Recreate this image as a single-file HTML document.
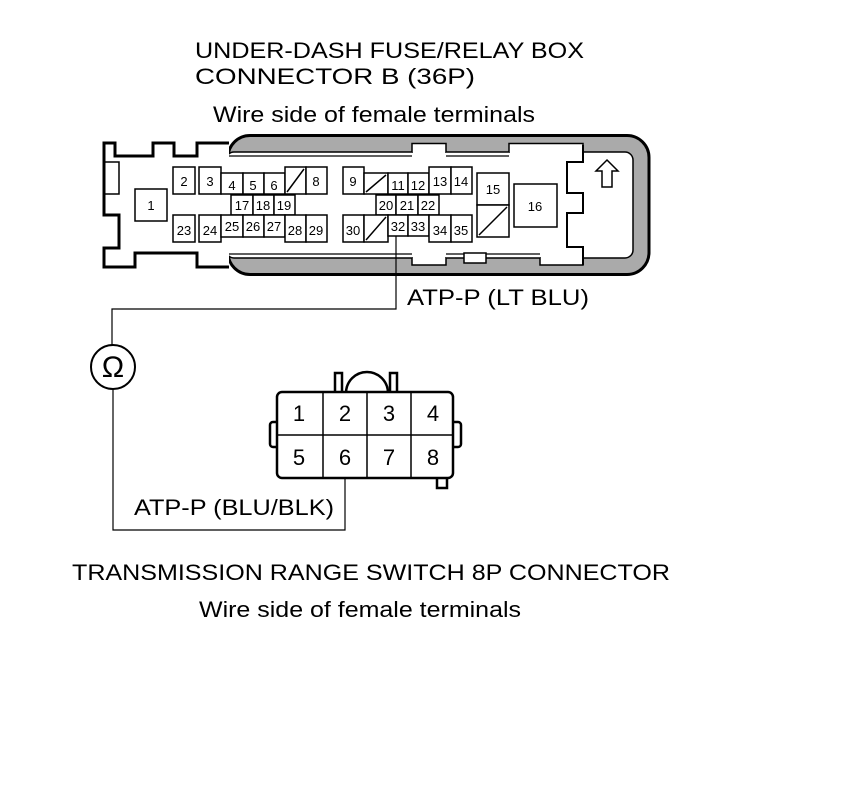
<!DOCTYPE html>
<html><head><meta charset="utf-8"><style>
html,body{margin:0;padding:0;background:#fff;}
svg{display:block;}
text{font-family:"Liberation Sans",sans-serif;fill:#000;}
.t{font-size:22px;}
.n{font-size:13px;text-anchor:middle;}
.p{font-size:22px;text-anchor:middle;}
</style></head><body>
<svg width="860" height="785" viewBox="0 0 860 785" xmlns="http://www.w3.org/2000/svg">
<rect width="860" height="785" fill="#fff"/>
<text class="t" x="195" y="58" textLength="389" lengthAdjust="spacingAndGlyphs">UNDER-DASH FUSE/RELAY BOX</text>
<text class="t" x="195" y="84" textLength="280" lengthAdjust="spacingAndGlyphs">CONNECTOR B (36P)</text>
<text class="t" x="213" y="122" textLength="322" lengthAdjust="spacingAndGlyphs">Wire side of female terminals</text>

<rect x="228" y="135.5" width="421" height="139" rx="22" fill="#aaa" stroke="#000" stroke-width="3"/>
<rect x="226" y="152" width="407" height="106" rx="8" fill="#fff" stroke="#000" stroke-width="1.5"/>
<g fill="#fff" stroke="#000" stroke-width="1.5">
<path d="M412,152 V143.5 H446 V152"/>
<path d="M509,152 V143.5 H583 V152"/>
<path d="M412,258 V265 H446 V258"/>
<path d="M540,258 V265 H583 V258"/>
<rect x="464" y="253" width="22" height="10"/>
</g>
<rect x="413" y="151" width="32" height="3" fill="#fff"/>
<rect x="510" y="151" width="72" height="3" fill="#fff"/>
<rect x="413" y="256" width="32" height="3" fill="#fff"/>
<rect x="541" y="256" width="41" height="3" fill="#fff"/>
<line x1="229" y1="156" x2="412" y2="156" stroke="#000" stroke-width="1.3"/>
<line x1="446" y1="156" x2="509" y2="156" stroke="#000" stroke-width="1.3"/>
<line x1="229" y1="254" x2="412" y2="254" stroke="#000" stroke-width="1.3"/>
<line x1="446" y1="254" x2="464" y2="254" stroke="#000" stroke-width="1.3"/>
<line x1="486" y1="254" x2="540" y2="254" stroke="#000" stroke-width="1.3"/>
<polyline points="583,145 583,162 567,162 567,193 583,193 583,213 567,213 567,247 583,247 583,265" fill="none" stroke="#000" stroke-width="2"/>
<polygon points="607,160 618,171 612,171 612,187 602,187 602,171 596,171" fill="#fff" stroke="#000" stroke-width="1.5"/>
<path d="M229,143 H197 V156 H174 V143 H153 V156 H115 V143 H104 V215 H119 V248 H104 V267 H135 V253 H197 V267 H229" fill="#fff" stroke="#000" stroke-width="3"/>
<path d="M104,162 H119 V194 H104" fill="none" stroke="#000" stroke-width="1.5"/>
<rect x="226" y="157" width="4" height="96" fill="#fff"/>

<g fill="#fff" stroke="#000" stroke-width="1.5">
<rect x="135" y="189" width="32" height="32"/>
<rect x="173" y="167" width="22" height="27"/>
<rect x="199" y="167" width="22" height="27"/>
<rect x="221" y="173" width="22" height="21"/>
<rect x="243" y="173" width="21" height="21"/>
<rect x="264" y="173" width="21" height="21"/>
<rect x="285" y="167" width="21" height="27"/>
<rect x="306" y="167" width="21" height="27"/>
<rect x="231" y="195" width="22" height="20"/>
<rect x="253" y="195" width="21" height="20"/>
<rect x="274" y="195" width="21" height="20"/>
<rect x="173" y="215" width="22" height="27"/>
<rect x="199" y="215" width="22" height="27"/>
<rect x="221" y="215" width="22" height="22"/>
<rect x="243" y="215" width="21" height="22"/>
<rect x="264" y="215" width="21" height="22"/>
<rect x="285" y="215" width="21" height="27"/>
<rect x="306" y="215" width="21" height="27"/>
<rect x="343" y="167" width="21" height="27"/>
<rect x="364" y="173" width="24" height="21"/>
<rect x="388" y="173" width="20" height="21"/>
<rect x="408" y="173" width="21" height="21"/>
<rect x="429" y="167" width="22" height="27"/>
<rect x="451" y="167" width="21" height="27"/>
<rect x="376" y="195" width="20" height="20"/>
<rect x="396" y="195" width="22" height="20"/>
<rect x="418" y="195" width="21" height="20"/>
<rect x="343" y="215" width="21" height="27"/>
<rect x="364" y="215" width="24" height="27"/>
<rect x="388" y="215" width="20" height="21"/>
<rect x="408" y="215" width="21" height="21"/>
<rect x="429" y="215" width="22" height="27"/>
<rect x="451" y="215" width="21" height="27"/>
<rect x="477" y="173" width="32" height="32"/>
<rect x="477" y="205" width="32" height="32"/>
<rect x="514" y="184" width="43" height="43"/>
</g>
<g stroke="#000" stroke-width="1.5">
<line x1="287" y1="192" x2="304" y2="169"/>
<line x1="366" y1="192" x2="386" y2="175"/>
<line x1="366" y1="240" x2="386" y2="217"/>
<line x1="479" y1="235" x2="507" y2="207"/>
</g>
<text x="151" y="210" class="n">1</text>
<text x="184" y="186" class="n">2</text>
<text x="210" y="186" class="n">3</text>
<text x="232" y="190" class="n">4</text>
<text x="253" y="190" class="n">5</text>
<text x="274" y="190" class="n">6</text>
<text x="316" y="186" class="n">8</text>
<text x="242" y="210" class="n">17</text>
<text x="263" y="210" class="n">18</text>
<text x="284" y="210" class="n">19</text>
<text x="184" y="235" class="n">23</text>
<text x="210" y="235" class="n">24</text>
<text x="232" y="231" class="n">25</text>
<text x="253" y="231" class="n">26</text>
<text x="274" y="231" class="n">27</text>
<text x="295" y="235" class="n">28</text>
<text x="316" y="235" class="n">29</text>
<text x="353" y="186" class="n">9</text>
<text x="398" y="190" class="n">11</text>
<text x="418" y="190" class="n">12</text>
<text x="440" y="186" class="n">13</text>
<text x="461" y="186" class="n">14</text>
<text x="386" y="210" class="n">20</text>
<text x="407" y="210" class="n">21</text>
<text x="428" y="210" class="n">22</text>
<text x="353" y="235" class="n">30</text>
<text x="398" y="231" class="n">32</text>
<text x="418" y="231" class="n">33</text>
<text x="440" y="235" class="n">34</text>
<text x="461" y="235" class="n">35</text>
<text x="493" y="194" class="n">15</text>
<text x="535" y="211" class="n">16</text>

<polyline points="396,236 396,309 112,309 112,345" fill="none" stroke="#000" stroke-width="1.2"/>
<polyline points="113,389 113,530 345,530 345,478" fill="none" stroke="#000" stroke-width="1.2"/>
<circle cx="113" cy="367" r="22" fill="#fff" stroke="#000" stroke-width="2"/>
<text x="113" y="377" style="font-size:30px;text-anchor:middle;">Ω</text>
<text class="t" x="407" y="305" textLength="182" lengthAdjust="spacingAndGlyphs">ATP-P (LT BLU)</text>
<text class="t" x="134" y="515" textLength="200" lengthAdjust="spacingAndGlyphs">ATP-P (BLU/BLK)</text>

<g fill="#fff" stroke="#000" stroke-width="2.5">
<rect x="335" y="373" width="7" height="22"/>
<rect x="390" y="373" width="7" height="22"/>
<path d="M346,393 A21,21 0 0 1 388,393"/>
<rect x="270" y="422" width="10" height="25" rx="3"/>
<rect x="451" y="422" width="10" height="25" rx="3"/>
<path d="M437,476 V488 H447 V476"/>
<rect x="277" y="392" width="176" height="86" rx="5"/>
</g>
<g stroke="#000" stroke-width="1.5">
<line x1="277" y1="435" x2="453" y2="435"/>
<line x1="323" y1="392" x2="323" y2="478"/>
<line x1="367" y1="392" x2="367" y2="478"/>
<line x1="411" y1="392" x2="411" y2="478"/>
</g>
<text class="p" x="299" y="421">1</text>
<text class="p" x="345" y="421">2</text>
<text class="p" x="389" y="421">3</text>
<text class="p" x="433" y="421">4</text>
<text class="p" x="299" y="465">5</text>
<text class="p" x="345" y="465">6</text>
<text class="p" x="389" y="465">7</text>
<text class="p" x="433" y="465">8</text>

<text class="t" x="72" y="580" textLength="598" lengthAdjust="spacingAndGlyphs">TRANSMISSION RANGE SWITCH 8P CONNECTOR</text>
<text class="t" x="199" y="617" textLength="322" lengthAdjust="spacingAndGlyphs">Wire side of female terminals</text>
</svg>
</body></html>
